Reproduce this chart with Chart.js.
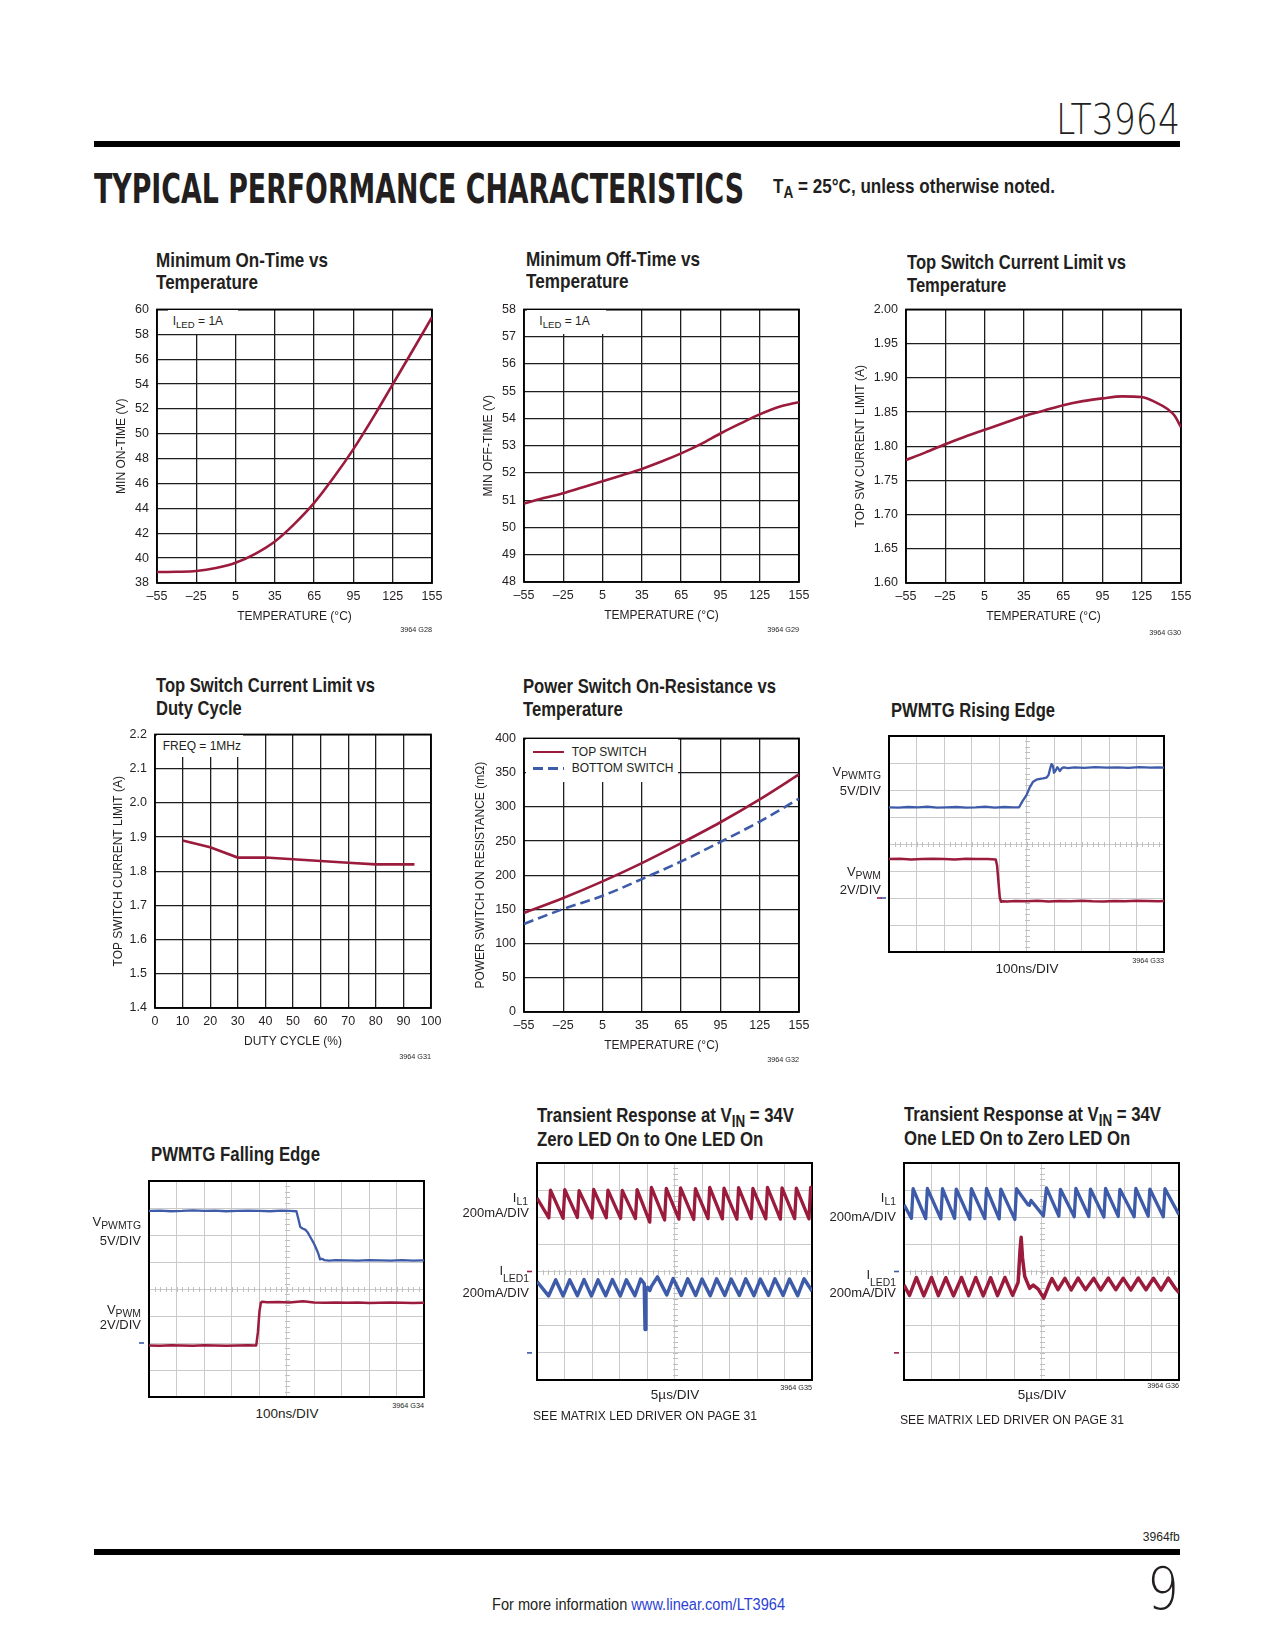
<!DOCTYPE html>
<html>
<head>
<meta charset="utf-8">
<script src="https://cdn.jsdelivr.net/npm/chart.js@4.4.1/dist/chart.umd.min.js"></script>
<style>
  html, body { margin: 0; padding: 0; background: #fff; }
  #page { position: relative; width: 1275px; height: 1650px; overflow: hidden;
          font-family: 'Liberation Sans', Arial, Helvetica, sans-serif; color: #231f20; }
  #page canvas { position: absolute; }
  .t { position: absolute; white-space: nowrap; }
  .sub { position: relative; font-size: 0.8em; top: 0.3em; }
  .sub2 { position: relative; font-size: 0.8em; top: 0.68em; }
  .box { position: absolute; background: #fff; }
  .rule { position: absolute; background: #000; left: 94px; width: 1086px; height: 6px; }
</style>
</head>
<body>
<div id="page"></div>
<script>
// ── Colours ──────────────────────────────────────────────────────────────────
const RED = '#9b1b3c'
const BLUE = '#3e5ba9'
const INK = '#231f20'
const NARROW = "'Liberation Sans Narrow', 'Liberation Sans', Arial, sans-serif"

// ── Tick labels ──────────────────────────────────────────────────────────────
const TEMP_TICKS = [-55, -25, 5, 35, 65, 95, 125, 155]
const ON_TIME_TICKS = [38, 40, 42, 44, 46, 48, 50, 52, 54, 56, 58, 60]
const OFF_TIME_TICKS = [48, 49, 50, 51, 52, 53, 54, 55, 56, 57, 58]
const SW_LIMIT_TICKS = [1.60, 1.65, 1.70, 1.75, 1.80, 1.85, 1.90, 1.95, 2.00]
const DUTY_TICKS = [0, 10, 20, 30, 40, 50, 60, 70, 80, 90, 100]
const DUTY_LIMIT_TICKS = [1.4, 1.5, 1.6, 1.7, 1.8, 1.9, 2.0, 2.1, 2.2]
const RDS_TICKS = [0, 50, 100, 150, 200, 250, 300, 350, 400]
const DIV_X = [0, 1, 2, 3, 4, 5, 6, 7, 8, 9, 10]
const DIV_Y = [0, 1, 2, 3, 4, 5, 6, 7, 8]

// ── Characteristic curves ────────────────────────────────────────────────────
const CURVE_TEMP = [-55, -40, -25, -10, 5, 20, 35, 50, 65, 80, 95, 110, 125, 140, 155]
const ON_TIME = [38.88, 38.9, 38.96, 39.2, 39.63, 40.35, 41.34, 42.76, 44.44, 46.5, 48.77, 51.3, 53.98, 56.66, 59.38]
const OFF_TIME = [50.88, 51.08, 51.26, 51.48, 51.7, 51.92, 52.15, 52.42, 52.72, 53.06, 53.45, 53.81, 54.15, 54.43, 54.6]

const SW_LIMIT_TEMP = [-55, -40, -25, -10, 5, 20, 35, 50, 65, 80, 95, 110, 125, 135, 145, 150, 155]
const SW_LIMIT = [1.780, 1.791, 1.803, 1.814, 1.824, 1.834, 1.844, 1.852, 1.860, 1.866, 1.870, 1.873, 1.872, 1.865, 1.854, 1.845, 1.828]

const DUTY = [10, 20, 30, 40, 50, 60, 70, 80, 94]
const DUTY_LIMIT = [1.89, 1.87, 1.84, 1.84, 1.835, 1.83, 1.825, 1.82, 1.82]

const RDS_TOP = [144.8, 166.7, 191, 217.7, 246.9, 277.5, 311, 347.5]
const RDS_BOTTOM = [128.8, 150.7, 170, 194.4, 220.2, 248.8, 278.5, 312]

// ── Scope traces (divisions) ─────────────────────────────────────────────────
const RISE_TG_T = [0, 0.35, 0.7, 1.05, 1.4, 1.75, 2.1, 2.45, 2.8, 3.15, 3.5, 3.85, 4.2, 4.5, 4.73, 4.85, 5.0, 5.12, 5.24, 5.36, 5.49, 5.6, 5.73, 5.8, 5.86, 5.91, 5.96, 6.0, 6.06, 6.12, 6.17, 6.21, 6.28, 6.36, 6.5, 6.75, 7.1, 7.5, 7.9, 8.3, 8.7, 9.1, 9.5, 9.8, 10]
const RISE_TG_V = [5.36, 5.35, 5.37, 5.36, 5.38, 5.35, 5.36, 5.37, 5.35, 5.36, 5.38, 5.35, 5.37, 5.36, 5.36, 5.58, 5.81, 6.1, 6.31, 6.38, 6.41, 6.43, 6.46, 6.55, 6.8, 6.96, 6.9, 6.64, 6.72, 6.84, 6.78, 6.7, 6.8, 6.84, 6.81, 6.84, 6.82, 6.85, 6.83, 6.84, 6.82, 6.85, 6.83, 6.84, 6.83]
const RISE_PWM_T = [0, 0.4, 0.8, 1.2, 1.6, 2.0, 2.4, 2.8, 3.2, 3.6, 3.88, 3.93, 3.98, 4.03, 4.08, 4.15, 4.3, 4.6, 5.0, 5.4, 5.8, 6.2, 6.6, 7.0, 7.4, 7.8, 8.2, 8.6, 9.0, 9.4, 9.8, 10]
const RISE_PWM_V = [3.44, 3.45, 3.43, 3.44, 3.45, 3.44, 3.43, 3.45, 3.44, 3.44, 3.43, 3.2, 2.6, 2.0, 1.86, 1.88, 1.87, 1.89, 1.88, 1.9, 1.87, 1.89, 1.88, 1.9, 1.88, 1.87, 1.89, 1.88, 1.9, 1.89, 1.88, 1.89]

const FALL_TG_T = [0, 0.4, 0.8, 1.2, 1.6, 2.0, 2.4, 2.8, 3.2, 3.6, 4.0, 4.4, 4.8, 5.1, 5.36, 5.43, 5.5, 5.58, 5.68, 5.78, 5.88, 5.98, 6.08, 6.16, 6.22, 6.28, 6.38, 6.55, 6.8, 7.2, 7.6, 8.0, 8.4, 8.8, 9.2, 9.6, 10]
const FALL_TG_V = [6.89, 6.9, 6.88, 6.89, 6.91, 6.89, 6.9, 6.88, 6.89, 6.9, 6.89, 6.88, 6.9, 6.89, 6.88, 6.6, 6.3, 6.24, 6.2, 6.08, 5.9, 5.72, 5.5, 5.3, 5.1, 5.12, 5.07, 5.05, 5.07, 5.06, 5.05, 5.07, 5.06, 5.05, 5.07, 5.05, 5.06]
const FALL_PWM_T = [0, 0.4, 0.8, 1.2, 1.6, 2.0, 2.4, 2.8, 3.2, 3.6, 3.9, 3.96, 4.02, 4.07, 4.12, 4.3, 4.7, 5.1, 5.6, 6.0, 6.4, 6.8, 7.2, 7.6, 8.0, 8.4, 8.8, 9.2, 9.6, 10]
const FALL_PWM_V = [1.91, 1.9, 1.92, 1.91, 1.9, 1.92, 1.91, 1.9, 1.91, 1.92, 1.91, 2.4, 3.2, 3.5, 3.53, 3.51, 3.52, 3.5, 3.55, 3.5, 3.49, 3.5, 3.49, 3.5, 3.48, 3.49, 3.5, 3.49, 3.48, 3.49]

const ON_IL1_T = [0, 0.43, 0.49, 0.95, 1.01, 1.47, 1.53, 2.00, 2.06, 2.52, 2.58, 3.04, 3.10, 3.58, 3.64, 4.10, 4.16, 4.64, 4.70, 5.16, 5.22, 5.70, 5.76, 6.22, 6.28, 6.74, 6.80, 7.27, 7.33, 7.79, 7.85, 8.32, 8.38, 8.85, 8.91, 9.37, 9.43, 9.89, 9.95, 10]
const ON_IL1_V = [6.71, 5.98, 7.00, 5.96, 7.02, 5.99, 6.98, 5.97, 7.03, 5.98, 7.00, 5.96, 6.99, 5.95, 7.02, 5.82, 7.10, 5.90, 7.06, 5.93, 7.08, 5.92, 7.05, 5.95, 7.10, 5.94, 7.07, 5.93, 7.09, 5.95, 7.06, 5.94, 7.10, 5.93, 7.08, 5.95, 7.07, 5.94, 7.10, 7.00]
const ON_LED_T = [0, 0.42, 0.68, 0.95, 1.19, 1.47, 1.71, 1.98, 2.22, 2.50, 2.74, 3.03, 3.25, 3.56, 3.77, 3.90, 3.93, 3.96, 4.02, 4.10, 4.16, 4.38, 4.72, 4.95, 5.25, 5.48, 5.77, 6.00, 6.30, 6.53, 6.83, 7.06, 7.36, 7.59, 7.89, 8.12, 8.42, 8.65, 8.95, 9.18, 9.48, 9.71, 10]
const ON_LED_V = [3.63, 3.10, 3.69, 3.10, 3.69, 3.11, 3.70, 3.10, 3.69, 3.11, 3.70, 3.10, 3.69, 3.11, 3.72, 3.55, 1.86, 3.30, 3.42, 3.30, 3.45, 3.80, 3.14, 3.74, 3.12, 3.73, 3.12, 3.72, 3.11, 3.73, 3.12, 3.72, 3.12, 3.73, 3.11, 3.72, 3.12, 3.73, 3.12, 3.72, 3.11, 3.73, 3.28]

const OFF_IL1_T = [0, 0.27, 0.33, 0.79, 0.85, 1.34, 1.40, 1.84, 1.90, 2.39, 2.45, 2.94, 3.00, 3.46, 3.52, 4.03, 4.09, 4.51, 4.56, 4.62, 5.07, 5.18, 5.63, 5.69, 6.19, 6.25, 6.72, 6.78, 7.27, 7.33, 7.79, 7.85, 8.37, 8.43, 8.88, 8.94, 9.43, 9.49, 10]
const OFF_IL1_V = [6.46, 5.96, 7.05, 5.95, 7.06, 5.94, 7.05, 5.96, 7.04, 5.93, 7.05, 5.95, 7.06, 5.94, 7.04, 5.92, 7.05, 6.46, 6.44, 6.62, 6.05, 7.08, 6.04, 7.03, 6.02, 7.06, 6.03, 7.04, 6.01, 7.06, 6.03, 7.03, 6.02, 7.06, 6.04, 7.04, 6.02, 7.05, 6.09]
const OFF_LED_T = [0, 0.20, 0.45, 0.72, 1.00, 1.25, 1.52, 1.80, 2.09, 2.35, 2.61, 2.88, 3.15, 3.40, 3.67, 3.95, 4.15, 4.22, 4.26, 4.31, 4.39, 4.57, 4.70, 4.88, 5.08, 5.30, 5.38, 5.60, 5.85, 6.08, 6.33, 6.60, 6.90, 7.15, 7.43, 7.70, 7.97, 8.25, 8.52, 8.80, 9.07, 9.35, 9.61, 9.85, 10]
const OFF_LED_V = [3.50, 3.12, 3.78, 3.10, 3.78, 3.11, 3.77, 3.10, 3.78, 3.11, 3.78, 3.10, 3.77, 3.11, 3.78, 3.12, 3.60, 4.80, 5.26, 4.50, 3.82, 3.38, 3.50, 3.35, 3.02, 3.57, 3.74, 3.33, 3.75, 3.32, 3.76, 3.33, 3.75, 3.32, 3.76, 3.33, 3.75, 3.32, 3.76, 3.33, 3.75, 3.32, 3.76, 3.40, 3.22]

// ── Helpers ──────────────────────────────────────────────────────────────────
const page = document.getElementById('page')
Chart.defaults.font.family = "'Liberation Sans', Arial, Helvetica, sans-serif"
Chart.defaults.font.size = 12.5
Chart.defaults.color = INK

function pts(xs, ys) { return xs.map((x, i) => ({ x, y: ys[i] })) }
function tempFmt(v) { return v < 0 ? '\u2013' + Math.abs(v) : String(v) }

function curve(xs, ys, color, extra) {
  return Object.assign({
    data: pts(xs, ys), borderColor: color, borderWidth: 2.6, pointRadius: 0,
    fill: false, cubicInterpolationMode: 'monotone'
  }, extra)
}
function trace(xs, ys, color, w) {
  return { data: pts(xs, ys), borderColor: color, borderWidth: w || 2.4, pointRadius: 0,
           fill: false, tension: 0, borderJoinStyle: 'round' }
}

// frame, scope centre-line ticks and ground markers
const decor = {
  id: 'decor',
  beforeDatasetsDraw(chart, _args, o) {
    const { ctx, chartArea: a, scales: { x, y } } = chart
    ctx.save()
    if (o.minor) {
      ctx.strokeStyle = '#c0c0c0'
      ctx.lineWidth = 1
      const cy = Math.round(y.getPixelForValue(4)) + 0.5
      const cx = Math.round(x.getPixelForValue(5)) + 0.5
      ctx.beginPath()
      for (let i = 0; i <= 50; i++) {
        const px = Math.round(x.getPixelForValue(i * 0.2)) + 0.5
        ctx.moveTo(px, cy - 2.5); ctx.lineTo(px, cy + 2.5)
      }
      for (let j = 0; j <= 40; j++) {
        const py = Math.round(y.getPixelForValue(j * 0.2)) + 0.5
        ctx.moveTo(cx - 2.5, py); ctx.lineTo(cx + 2.5, py)
      }
      ctx.stroke()
    }
    ;(o.markers || []).forEach(mk => {
      const py = y.getPixelForValue(mk.y)
      ctx.strokeStyle = mk.color
      ctx.lineWidth = 1.6
      ctx.beginPath()
      ctx.moveTo(a.left - 10 + (mk.dx || 0), py)
      ctx.lineTo(a.left - 5 + (mk.dx || 0), py)
      ctx.stroke()
    })
    ctx.strokeStyle = '#000'
    ctx.lineWidth = o.frame || 2
    ctx.strokeRect(a.left, a.top, a.right - a.left, a.bottom - a.top)
    ctx.restore()
  }
}

function addChart(spec) {
  const [x1, y1, x2, y2] = spec.plot
  const m = spec.scope ? { l: 16, t: 4, r: 4, b: 4 } : { l: 80, t: 14, r: 24, b: 56 }
  const w = x2 - x1 + m.l + m.r
  const h = y2 - y1 + m.t + m.b
  const cv = document.createElement('canvas')
  cv.width = w; cv.height = h
  cv.style.left = (x1 - m.l) + 'px'
  cv.style.top = (y1 - m.t) + 'px'
  cv.style.width = w + 'px'
  cv.style.height = h + 'px'
  page.appendChild(cv)

  const grid = { color: spec.scope ? '#cacaca' : '#1e1e1e', lineWidth: spec.scope ? 1 : 1.3, drawTicks: false }
  const xs = {
    type: 'linear', min: spec.xTicks[0], max: spec.xTicks[spec.xTicks.length - 1],
    afterBuildTicks: s => { s.ticks = spec.xTicks.map(v => ({ value: v })) },
    afterFit: s => { s.height = m.b },
    grid, border: { display: false },
    ticks: { display: !spec.scope, padding: 6.5, autoSkip: false, maxRotation: 0, color: INK,
             callback: v => (spec.xFmt || String)(v) },
    title: { display: !!spec.xTitle, text: spec.xTitle, color: INK, font: { size: 12 },
             padding: { top: 0, bottom: spec.xTitle ? (y2 + m.b) - spec.xTitleY - 7.2 : 0 } }
  }
  const ys = {
    type: 'linear', min: spec.yTicks[0], max: spec.yTicks[spec.yTicks.length - 1],
    afterBuildTicks: s => { s.ticks = spec.yTicks.map(v => ({ value: v })) },
    afterFit: s => { s.width = m.l },
    grid, border: { display: false },
    ticks: { display: !spec.scope, padding: 8, autoSkip: false, color: INK,
             callback: v => (spec.yFmt || String)(v) },
    title: { display: !!spec.yTitle, text: spec.yTitle, color: INK, font: { size: 12 },
             padding: { top: spec.yTitle ? spec.yTitleX - (x1 - m.l) - 7.2 : 0, bottom: 0 } }
  }

  return new Chart(cv.getContext('2d'), {
    type: 'line',
    data: { datasets: spec.datasets },
    plugins: [decor],
    options: {
      responsive: false, animation: false, devicePixelRatio: 1,
      layout: { padding: { left: 0, top: m.t, right: m.r, bottom: 0 } },
      plugins: {
        legend: { display: false }, tooltip: { enabled: false },
        decor: { frame: spec.scope ? 2 : 1.8, minor: !!spec.scope, markers: spec.markers }
      },
      scales: { x: xs, y: ys }
    }
  })
}

function text(html, o) {
  const el = document.createElement('div')
  el.className = 't'
  el.innerHTML = html
  const size = o.size || 12
  const lh = o.lh || size
  el.style.fontSize = size + 'px'
  el.style.lineHeight = lh + 'px'
  if (o.bold) el.style.fontWeight = 'bold'
  if (o.weight) el.style.fontWeight = o.weight
  if (o.family) el.style.fontFamily = o.family
  if (o.color) el.style.color = o.color
  el.style.top = (o.cap - (lh / 2 - 0.3695 * size)) + 'px'
  if (o.align === 'right') {
    el.style.right = (1275 - o.x) + 'px'
    el.style.textAlign = 'right'
  } else if (o.align === 'center') {
    el.style.left = (o.x - 300) + 'px'
    el.style.width = '600px'
    el.style.textAlign = 'center'
  } else {
    el.style.left = o.x + 'px'
  }
  page.appendChild(el)
  if (o.fit) {
    const nat = el.getBoundingClientRect().width
    el.style.transformOrigin = o.align === 'right' ? '100% 0' : '0 0'
    el.style.transform = 'scaleX(' + (o.fit / nat) + ')'
  }
  return el
}

function box(x, y, w, h) {
  const el = document.createElement('div')
  el.className = 'box'
  Object.assign(el.style, { left: x + 'px', top: y + 'px', width: w + 'px', height: h + 'px' })
  page.appendChild(el)
  return el
}

function title(html, x, cap, fit) {
  return text(html, { x, cap, size: 20.4, lh: 22.3, bold: true, family: NARROW, fit })
}

// ── Page furniture ───────────────────────────────────────────────────────────
text('LT3964', { x: 1056, cap: 104, size: 43, family: "'DejaVu Sans', sans-serif", weight: 200, fit: 124 })
page.insertAdjacentHTML('beforeend', '<div class="rule" style="top:141px"></div>')
text('TYPICAL PERFORMANCE CHARACTERISTICS', { x: 94, cap: 174, size: 41, bold: true, family: "'DejaVu Sans', sans-serif", fit: 650 })
text('T<span class="sub">A</span> = 25°C, unless otherwise noted.', { x: 773, cap: 179, size: 20.5, bold: true, family: NARROW, fit: 282 })

text('3964fb', { x: 1180, cap: 1533, size: 12, align: 'right', fit: 37 })
page.insertAdjacentHTML('beforeend', '<div class="rule" style="top:1549px"></div>')
text('9', { x: 1147, cap: 1568, size: 58, family: "'DejaVu Sans', sans-serif", weight: 200, fit: 32 })
text('For more information <span style="color:#2d3fd3">www.linear.com/LT3964</span>', { x: 492, cap: 1599, size: 16, fit: 293 })

// ── G28 Minimum On-Time ──────────────────────────────────────────────────────
title('Minimum On-Time vs<br>Temperature', 156, 252.7, 172)
addChart({
  plot: [157, 308, 432, 583], xTicks: TEMP_TICKS, yTicks: ON_TIME_TICKS, xFmt: tempFmt,
  xTitle: 'TEMPERATURE (°C)', xTitleY: 616.7, yTitle: 'MIN ON-TIME (V)', yTitleX: 121.7,
  datasets: [curve(CURVE_TEMP, ON_TIME, RED)]
})
box(168, 309.5, 70, 24.5)
text('I<span class="sub">LED</span> = 1A', { x: 172.7, cap: 317 })
text('3964 G28', { x: 432, cap: 627, size: 8, align: 'right', fit: 32 })

// ── G29 Minimum Off-Time ─────────────────────────────────────────────────────
title('Minimum Off-Time vs<br>Temperature', 526, 251.7, 174)
addChart({
  plot: [524, 308, 799, 582], xTicks: TEMP_TICKS, yTicks: OFF_TIME_TICKS, xFmt: tempFmt,
  xTitle: 'TEMPERATURE (°C)', xTitleY: 616, yTitle: 'MIN OFF-TIME (V)', yTitleX: 489,
  datasets: [curve(CURVE_TEMP, OFF_TIME, RED)]
})
box(527, 309.5, 79, 24.5)
text('I<span class="sub">LED</span> = 1A', { x: 539.3, cap: 317 })
text('3964 G29', { x: 799, cap: 627, size: 8, align: 'right', fit: 32 })

// ── G30 Top switch current limit vs temperature ─────────────────────────────
title('Top Switch Current Limit vs<br>Temperature', 906.7, 255, 219)
addChart({
  plot: [906, 308, 1181, 583], xTicks: TEMP_TICKS, yTicks: SW_LIMIT_TICKS, xFmt: tempFmt,
  yFmt: v => v.toFixed(2),
  xTitle: 'TEMPERATURE (°C)', xTitleY: 616.7, yTitle: 'TOP SW CURRENT LIMIT (A)', yTitleX: 860.7,
  datasets: [curve(SW_LIMIT_TEMP, SW_LIMIT, RED)]
})
text('3964 G30', { x: 1181, cap: 630, size: 8, align: 'right', fit: 32 })

// ── G31 Top switch current limit vs duty cycle ──────────────────────────────
title('Top Switch Current Limit vs<br>Duty Cycle', 156, 678, 219)
addChart({
  plot: [155, 733, 431, 1008], xTicks: DUTY_TICKS, yTicks: DUTY_LIMIT_TICKS,
  yFmt: v => v.toFixed(1),
  xTitle: 'DUTY CYCLE (%)', xTitleY: 1041.7, yTitle: 'TOP SWITCH CURRENT LIMIT (A)', yTitleX: 118.3,
  datasets: [curve(DUTY, DUTY_LIMIT, RED, { cubicInterpolationMode: 'default', tension: 0 })]
})
box(157, 734.5, 86, 22.5)
text('FREQ = 1MHz', { x: 162.7, cap: 741.7 })
text('3964 G31', { x: 431, cap: 1054, size: 8, align: 'right', fit: 32 })

// ── G32 Power switch on-resistance ───────────────────────────────────────────
title('Power Switch On-Resistance vs<br>Temperature', 523, 679, 253)
addChart({
  plot: [524, 737, 799, 1012], xTicks: TEMP_TICKS, yTicks: RDS_TICKS, xFmt: tempFmt,
  xTitle: 'TEMPERATURE (°C)', xTitleY: 1045.7, yTitle: 'POWER SWITCH ON RESISTANCE (mΩ)', yTitleX: 480.7,
  datasets: [
    curve(TEMP_TICKS, RDS_TOP, RED),
    curve(TEMP_TICKS, RDS_BOTTOM, BLUE, { borderDash: [10, 5] })
  ]
})
box(525.5, 738.5, 152.5, 43)
page.insertAdjacentHTML('beforeend',
  '<div style="position:absolute;left:533px;top:750.5px;width:31px;height:2.6px;background:' + RED + '"></div>' +
  '<div style="position:absolute;left:533px;top:767px;width:31px;height:2.6px;background:repeating-linear-gradient(90deg,' + BLUE + ' 0 10px,transparent 10px 15px)"></div>')
text('TOP SWITCH', { x: 571.7, cap: 747.5 })
text('BOTTOM SWITCH', { x: 571.7, cap: 763.5 })
text('3964 G32', { x: 799, cap: 1057, size: 8, align: 'right', fit: 32 })

// ── G33 PWMTG rising edge ────────────────────────────────────────────────────
title('PWMTG Rising Edge', 891, 703, 164)
addChart({
  plot: [889, 736, 1164, 952], scope: true, xTicks: DIV_X, yTicks: DIV_Y,
  markers: [{ y: 2, color: RED, dx: -2 }, { y: 2, color: BLUE, dx: 2 }],
  datasets: [trace(RISE_TG_T, RISE_TG_V, BLUE, 2.3), trace(RISE_PWM_T, RISE_PWM_V, RED, 2.5)]
})
text('V<span class="sub">PWMTG</span>', { x: 881, cap: 767, size: 13, align: 'right' })
text('5V/DIV', { x: 881, cap: 786, size: 13, align: 'right' })
text('V<span class="sub">PWM</span>', { x: 881, cap: 867, size: 13, align: 'right' })
text('2V/DIV', { x: 881, cap: 885, size: 13, align: 'right' })
text('100ns/DIV', { x: 1027, cap: 964, size: 13.5, align: 'center' })
text('3964 G33', { x: 1164, cap: 958, size: 8, align: 'right', fit: 32 })

// ── G34 PWMTG falling edge ───────────────────────────────────────────────────
title('PWMTG Falling Edge', 151, 1147, 169)
addChart({
  plot: [149, 1181, 424, 1397], scope: true, xTicks: DIV_X, yTicks: DIV_Y,
  markers: [{ y: 2, color: BLUE }],
  datasets: [trace(FALL_TG_T, FALL_TG_V, BLUE, 2.3), trace(FALL_PWM_T, FALL_PWM_V, RED, 2.5)]
})
text('V<span class="sub">PWMTG</span>', { x: 141, cap: 1217, size: 13, align: 'right' })
text('5V/DIV', { x: 141, cap: 1236, size: 13, align: 'right' })
text('V<span class="sub">PWM</span>', { x: 141, cap: 1305, size: 13, align: 'right' })
text('2V/DIV', { x: 141, cap: 1320, size: 13, align: 'right' })
text('100ns/DIV', { x: 287, cap: 1409, size: 13.5, align: 'center' })
text('3964 G34', { x: 424, cap: 1403, size: 8, align: 'right', fit: 32 })

// ── G35 Transient: zero LED on to one LED on ────────────────────────────────
title('Transient Response at V<span class="sub">IN</span> = 34V<br>Zero LED On to One LED On', 536.7, 1108, 257)
addChart({
  plot: [537, 1163, 812, 1380], scope: true, xTicks: DIV_X, yTicks: DIV_Y,
  markers: [{ y: 4, color: RED }, { y: 1, color: BLUE }],
  datasets: [trace(ON_IL1_T, ON_IL1_V, RED, 3.3), trace(ON_LED_T, ON_LED_V, BLUE, 3.5)]
})
text('I<span class="sub">L1</span>', { x: 528, cap: 1193, size: 13, align: 'right' })
text('200mA/DIV', { x: 529, cap: 1208, size: 13, align: 'right' })
text('I<span class="sub2">LED1</span>', { x: 529, cap: 1266, size: 13, align: 'right' })
text('200mA/DIV', { x: 529, cap: 1288, size: 13, align: 'right' })
text('5µs/DIV', { x: 675, cap: 1390, size: 13.5, align: 'center' })
text('SEE MATRIX LED DRIVER ON PAGE 31', { x: 533, cap: 1411, size: 13, fit: 224 })
text('3964 G35', { x: 812, cap: 1385, size: 8, align: 'right', fit: 32 })

// ── G36 Transient: one LED on to zero LED on ────────────────────────────────
title('Transient Response at V<span class="sub">IN</span> = 34V<br>One LED On to Zero LED On', 904, 1107, 257)
addChart({
  plot: [904, 1163, 1179, 1380], scope: true, xTicks: DIV_X, yTicks: DIV_Y,
  markers: [{ y: 4, color: BLUE }, { y: 1, color: RED }],
  datasets: [trace(OFF_IL1_T, OFF_IL1_V, BLUE, 3.3), trace(OFF_LED_T, OFF_LED_V, RED, 3.5)]
})
text('I<span class="sub">L1</span>', { x: 896, cap: 1193, size: 13, align: 'right' })
text('200mA/DIV', { x: 896, cap: 1212, size: 13, align: 'right' })
text('I<span class="sub2">LED1</span>', { x: 896, cap: 1270, size: 13, align: 'right' })
text('200mA/DIV', { x: 896, cap: 1288, size: 13, align: 'right' })
text('5µs/DIV', { x: 1042, cap: 1390, size: 13.5, align: 'center' })
text('SEE MATRIX LED DRIVER ON PAGE 31', { x: 900, cap: 1415, size: 13, fit: 224 })
text('3964 G36', { x: 1179, cap: 1383, size: 8, align: 'right', fit: 32 })
</script>
</body>
</html>
